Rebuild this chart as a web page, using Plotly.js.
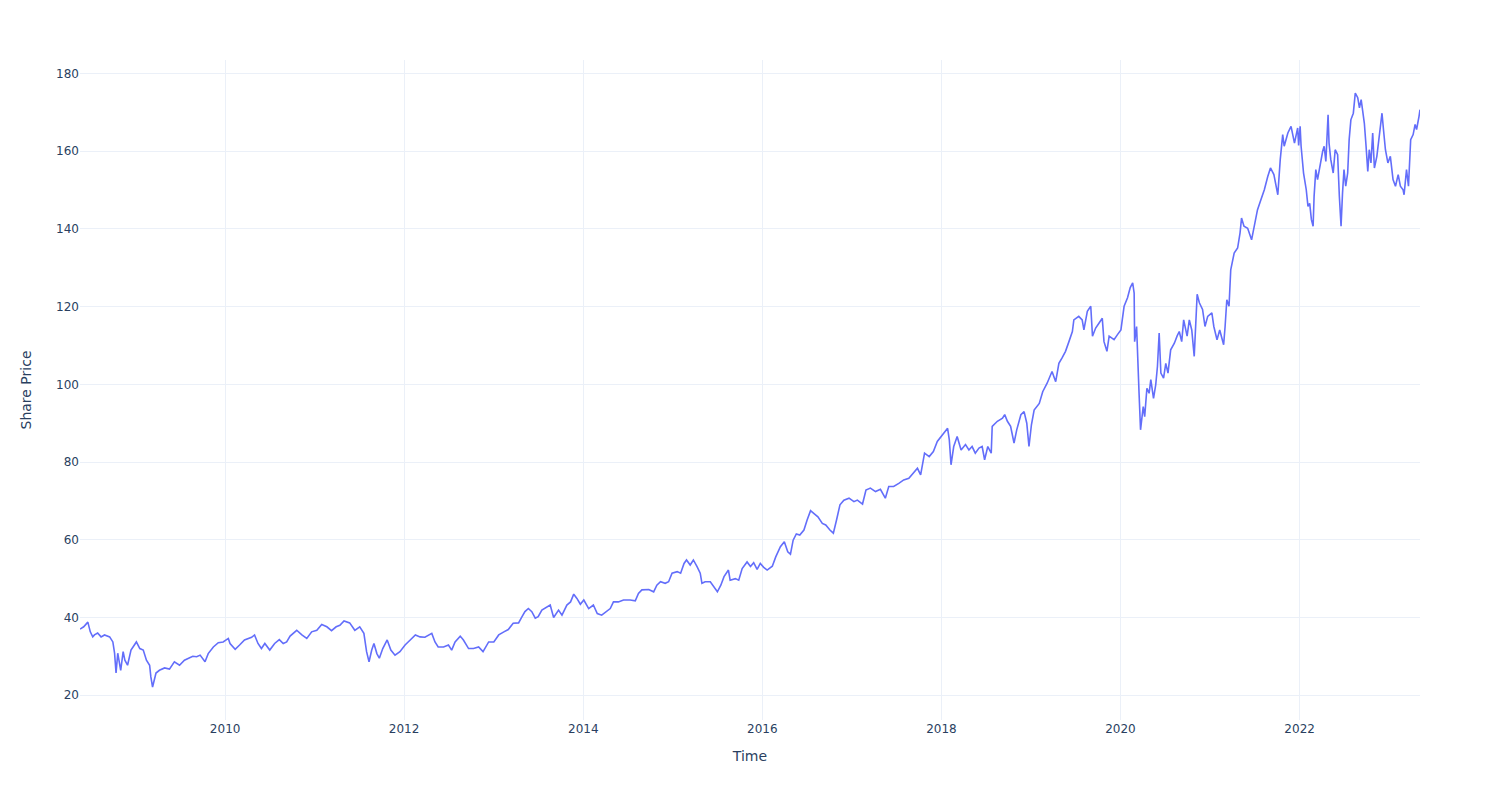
<!DOCTYPE html>
<html>
<head>
<meta charset="utf-8">
<script src="https://cdn.plot.ly/plotly-3.0.1.min.js"></script>
<style>html,body{margin:0;padding:0;background:#fff;}#chart{width:1500px;height:800px;}</style>
</head>
<body>
<div id="chart"></div>
<script>
const dates = [
"2008-05-19","2008-06-03","2008-06-20","2008-06-30","2008-07-10","2008-07-17","2008-07-30","2008-08-13","2008-08-27","2008-09-17",
"2008-09-30","2008-10-07","2008-10-13","2008-10-20","2008-11-01","2008-11-11","2008-11-18","2008-11-29","2008-12-13","2009-01-04",
"2009-01-18","2009-02-01","2009-02-14","2009-02-27","2009-03-04","2009-03-11","2009-03-25","2009-04-08","2009-04-29","2009-05-19",
"2009-06-08","2009-06-29","2009-07-19","2009-08-02","2009-08-22","2009-09-07","2009-09-21","2009-10-11","2009-10-24","2009-11-14",
"2009-12-04","2009-12-24","2010-01-14","2010-01-21","2010-02-11","2010-03-01","2010-03-21","2010-04-19","2010-05-01","2010-05-15",
"2010-05-29","2010-06-12","2010-07-02","2010-07-22","2010-08-10","2010-08-26","2010-09-09","2010-09-23","2010-10-20","2010-11-10",
"2010-11-30","2010-12-20","2011-01-10","2011-01-30","2011-02-20","2011-03-11","2011-03-30","2011-04-14","2011-05-01","2011-05-24",
"2011-06-14","2011-07-04","2011-07-21","2011-08-01","2011-08-11","2011-08-22","2011-08-31","2011-09-12","2011-09-22","2011-10-06",
"2011-10-24","2011-11-08","2011-11-25","2011-12-15","2012-01-05","2012-01-26","2012-02-16","2012-03-06","2012-03-26","2012-04-23",
"2012-05-06","2012-05-19","2012-06-10","2012-06-30","2012-07-13","2012-07-27","2012-08-17","2012-08-30","2012-09-20","2012-10-10",
"2012-10-31","2012-11-18","2012-12-11","2013-01-01","2013-01-21","2013-02-11","2013-03-01","2013-03-21","2013-04-12","2013-04-25",
"2013-05-08","2013-05-22","2013-06-05","2013-06-19","2013-07-01","2013-07-16","2013-08-06","2013-08-19","2013-09-02","2013-09-22",
"2013-10-06","2013-10-26","2013-11-10","2013-11-23","2013-12-06","2013-12-20","2014-01-03","2014-01-23","2014-02-11","2014-02-27",
"2014-03-17","2014-04-07","2014-04-21","2014-05-04","2014-05-24","2014-06-14","2014-07-11","2014-08-01","2014-08-14","2014-08-28",
"2014-09-25","2014-10-15","2014-10-28","2014-11-12","2014-12-01","2014-12-15","2014-12-29","2015-01-19","2015-02-02","2015-02-16",
"2015-02-26","2015-03-13","2015-03-26","2015-04-10","2015-04-23","2015-04-30","2015-05-13","2015-06-03","2015-06-16","2015-07-02",
"2015-07-16","2015-07-29","2015-08-16","2015-08-23","2015-09-13","2015-09-27","2015-10-11","2015-10-31","2015-11-14","2015-11-27",
"2015-12-11","2015-12-24","2016-01-07","2016-01-21","2016-02-11","2016-02-25","2016-03-15","2016-03-31","2016-04-14","2016-04-25",
"2016-05-06","2016-05-19","2016-06-02","2016-06-19","2016-07-02","2016-07-16","2016-07-29","2016-08-15","2016-09-02","2016-09-16",
"2016-10-03","2016-10-17","2016-10-30","2016-11-13","2016-11-29","2016-12-20","2017-01-09","2017-01-23","2017-02-13","2017-02-27",
"2017-03-17","2017-04-07","2017-04-27","2017-05-17","2017-05-31","2017-06-20","2017-07-11","2017-07-31","2017-08-21","2017-09-11",
"2017-09-25","2017-10-08","2017-10-24","2017-11-12","2017-11-29","2017-12-15","2018-01-05","2018-01-26","2018-02-02","2018-02-09",
"2018-02-20","2018-03-06","2018-03-22","2018-04-09","2018-04-23","2018-05-06","2018-05-19","2018-06-03","2018-06-16","2018-06-26",
"2018-07-09","2018-07-23","2018-07-27","2018-08-17","2018-09-07","2018-09-16","2018-09-27","2018-10-10","2018-10-24","2018-11-04",
"2018-11-21","2018-12-04","2018-12-15","2018-12-24","2019-01-03","2019-01-14","2019-02-04","2019-02-18","2019-03-08","2019-03-28",
"2019-04-12","2019-04-25","2019-05-08","2019-05-22","2019-06-05","2019-06-19","2019-06-25","2019-07-15","2019-07-29","2019-08-05",
"2019-08-19","2019-09-02","2019-09-09","2019-09-22","2019-10-06","2019-10-19","2019-10-26","2019-11-07","2019-11-16","2019-12-06",
"2019-12-20","2020-01-03","2020-01-16","2020-01-30","2020-02-10","2020-02-20","2020-02-26","2020-02-28","2020-03-07","2020-03-12",
"2020-03-17","2020-03-23","2020-04-03","2020-04-09","2020-04-18","2020-04-27","2020-05-04","2020-05-15","2020-05-24","2020-05-31",
"2020-06-07","2020-06-14","2020-06-25","2020-07-04","2020-07-13","2020-07-24","2020-08-08","2020-08-19","2020-08-28","2020-09-07",
"2020-09-15","2020-09-29","2020-10-08","2020-10-18","2020-10-28","2020-11-09","2020-11-18","2020-12-01","2020-12-11","2020-12-22",
"2021-01-08","2021-01-16","2021-01-29","2021-02-09","2021-02-25","2021-03-03","2021-03-10","2021-03-19","2021-03-26","2021-04-09",
"2021-04-23","2021-05-03","2021-05-09","2021-05-19","2021-06-03","2021-06-19","2021-07-02","2021-07-13","2021-07-27","2021-08-10",
"2021-08-24","2021-09-04","2021-09-18","2021-10-04","2021-10-14","2021-10-24","2021-10-30","2021-11-14","2021-11-27","2021-12-11",
"2021-12-24","2021-12-28","2022-01-03","2022-01-07","2022-01-17","2022-01-28","2022-02-04","2022-02-11","2022-02-18","2022-02-25",
"2022-03-01","2022-03-08","2022-03-15","2022-03-24","2022-04-05","2022-04-11","2022-04-18","2022-04-27","2022-05-01","2022-05-08",
"2022-05-18","2022-05-26","2022-06-05","2022-06-12","2022-06-19","2022-06-25","2022-07-01","2022-07-08","2022-07-16","2022-07-22",
"2022-07-29","2022-08-08","2022-08-16","2022-08-26","2022-09-02","2022-09-09","2022-09-16","2022-09-22","2022-09-29","2022-10-06",
"2022-10-12","2022-10-19","2022-10-26","2022-11-02","2022-11-12","2022-11-23","2022-12-03","2022-12-09","2022-12-17","2022-12-27",
"2023-01-06","2023-01-17","2023-01-27","2023-02-07","2023-02-16","2023-02-27","2023-03-03","2023-03-13","2023-03-21","2023-03-30",
"2023-04-09","2023-04-17","2023-04-23","2023-05-03","2023-05-07"
];
const prices = [
37.0,37.6,38.8,36.3,35.0,35.5,36.0,35.0,35.5,35.0,
33.7,30.8,25.7,30.8,26.4,31.2,29.0,27.7,31.6,33.7,
32.0,31.6,29.0,27.7,24.7,22.1,25.7,26.4,27.0,26.7,
28.6,27.7,29.0,29.5,30.0,29.9,30.3,28.6,30.7,32.4,
33.5,33.7,34.6,33.3,31.8,32.9,34.2,34.9,35.5,33.3,
32.0,33.3,31.6,33.3,34.3,33.3,33.7,35.2,36.7,35.5,
34.6,36.3,36.7,38.2,37.6,36.6,37.6,38.0,39.1,38.6,
36.7,37.6,35.9,31.2,28.6,31.6,33.3,30.7,29.5,32.0,
34.2,31.6,30.3,31.2,32.9,34.2,35.5,35.0,34.9,35.9,
33.7,32.4,32.4,32.9,31.6,33.7,35.2,34.2,32.0,32.0,
32.4,31.2,33.7,33.7,35.5,36.3,36.9,38.5,38.6,40.1,
41.5,42.3,41.5,39.8,40.2,41.9,42.6,43.2,40.0,41.9,
40.6,43.2,44.0,46.0,44.9,43.4,44.5,42.3,43.2,41.0,
40.6,41.5,42.3,44.0,44.0,44.5,44.5,44.3,46.2,47.1,
47.2,46.6,48.3,49.2,48.8,49.2,51.4,51.8,51.4,53.9,
54.8,53.5,54.8,53.1,51.4,48.8,49.2,49.2,47.9,46.6,
48.3,50.5,52.2,49.6,50.0,49.6,52.6,54.3,53.1,54.1,
52.4,53.9,52.9,52.2,53.2,55.6,58.2,59.5,56.9,56.3,
59.9,61.5,61.2,62.5,65.1,67.5,66.8,65.9,64.2,63.8,
62.5,61.7,65.1,69.0,70.2,70.7,69.8,70.2,69.2,72.8,
73.3,72.4,73.0,70.7,73.7,73.7,74.5,75.4,75.8,77.5,
78.4,76.7,82.3,81.4,82.7,85.3,87.0,88.7,85.7,79.3,
84.0,86.6,83.1,84.5,83.1,84.0,82.3,83.6,84.0,80.6,
84.0,82.3,89.2,90.5,91.3,92.2,90.5,89.2,84.9,88.3,
92.2,93.0,90.0,84.0,89.6,93.4,95.1,98.1,100.3,103.3,
100.7,105.4,106.8,108.5,111.0,113.6,116.6,117.5,116.6,114.0,
118.8,120.1,112.4,114.5,115.8,117.0,111.0,108.5,112.4,111.5,
112.8,114.0,120.1,122.3,124.9,126.1,123.5,111.0,114.9,103.7,
97.7,88.3,94.3,91.7,99.0,97.7,101.2,96.4,99.9,104.6,
113.2,102.9,101.6,105.4,102.9,108.9,110.6,112.4,113.6,111.0,
116.6,112.4,116.6,114.0,107.2,123.2,121.0,119.3,114.9,117.5,
118.4,114.9,111.5,114.0,110.2,114.9,121.8,120.1,129.5,133.8,
135.1,139.0,142.8,140.7,140.2,137.2,141.5,144.9,147.5,150.1,
153.5,155.7,154.0,148.8,157.9,164.3,161.3,164.7,166.4,162.1,
166.0,161.5,166.4,161.3,154.4,150.1,145.8,146.6,142.4,140.7,
148.4,155.3,152.7,156.1,160.0,161.3,157.4,169.4,162.1,157.9,
154.4,160.4,159.1,148.4,140.7,149.3,155.3,151.0,154.4,163.0,
168.1,169.8,175.0,173.8,171.2,173.3,169.8,167.2,161.3,154.8,
160.4,157.0,164.7,155.7,158.7,164.7,169.8,165.6,160.4,157.0,
158.7,152.7,151.0,154.0,151.0,150.1,148.8,155.3,151.0,163.0,
164.3,166.9,165.6,169.0,170.7
];
const xTitle = "Time";
const yTitle = "Share Price";

const trace = {
  x: dates,
  y: prices,
  type: "scatter",
  mode: "lines",
  line: {color: "#636efa", width: 1.6}
};
const layout = {
  width: 1500,
  height: 800,
  margin: {l: 80, r: 80, t: 60, b: 80},
  paper_bgcolor: "#ffffff",
  plot_bgcolor: "#ffffff",
  font: {family: "DejaVu Sans, Open Sans, sans-serif", color: "#2a3f5f", size: 12},
  showlegend: false,
  xaxis: {
    type: "date",
    automargin: true,
    title: {text: xTitle, font: {size: 14}, standoff: 16},
    gridcolor: "#EBF0F8",
    linecolor: "#EBF0F8",
    zerolinecolor: "#EBF0F8",
    ticks: "",
    showline: false
  },
  yaxis: {
    automargin: true,
    title: {text: yTitle, font: {size: 14}, standoff: 21},
    gridcolor: "#EBF0F8",
    linecolor: "#EBF0F8",
    zerolinecolor: "#EBF0F8",
    ticks: "",
    showline: false
  }
};
Plotly.newPlot("chart", [trace], layout, {displayModeBar: false});
</script>
</body>
</html>
